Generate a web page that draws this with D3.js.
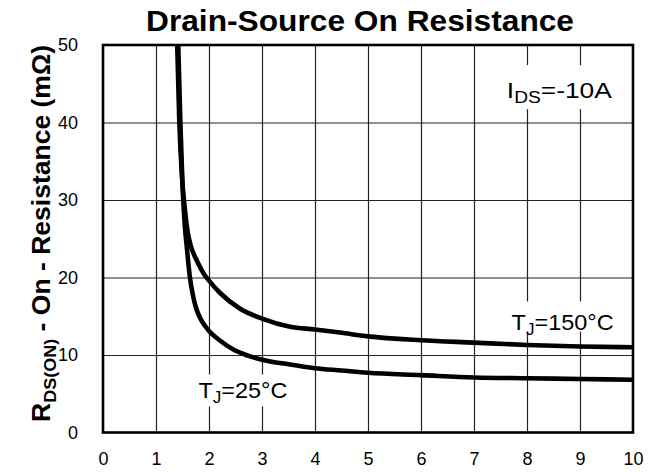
<!DOCTYPE html>
<html>
<head>
<meta charset="utf-8">
<script src="https://cdn.jsdelivr.net/npm/d3@7"></script>
<style>
  body { margin: 0; background: #fff; }
  text { font-family: "Liberation Sans", Arial, sans-serif; fill: #000; }
</style>
</head>
<body>
<svg id="chart" width="657" height="472"></svg>
<script>
// gate voltage (V) and on-resistance (mOhm)
const vgs25 = [1.42, 1.46, 1.5, 1.54, 1.58, 1.64, 1.7, 1.76, 1.83, 1.92, 2.0, 2.2, 2.46, 2.7, 3.0, 3.5, 4.0, 4.5, 5, 6, 7, 8, 9, 10];
const rds25 = [50, 40, 32, 27, 24, 20, 17.6, 16.0, 14.8, 13.8, 13.1, 11.9, 10.7, 10.0, 9.4, 8.8, 8.3, 8.0, 7.7, 7.4, 7.1, 7.0, 6.9, 6.8];
const vgs150 = [1.40, 1.44, 1.49, 1.55, 1.6, 1.66, 1.77, 1.92, 2.0, 2.21, 2.58, 3.0, 3.53, 4.0, 4.47, 5, 6, 7, 8, 9, 10];
const rds150 = [50, 40, 33, 28.5, 25.8, 24.0, 22.2, 20.3, 19.6, 18.0, 16.0, 14.7, 13.65, 13.3, 12.9, 12.4, 11.9, 11.6, 11.3, 11.1, 11.0];
const xTicks = [0, 1, 2, 3, 4, 5, 6, 7, 8, 9, 10];
const yTicks = [0, 10, 20, 30, 40, 50];

const svg = d3.select("#chart");
const margin = { top: 45, right: 24, bottom: 39.5, left: 103 };
const width = 657 - margin.left - margin.right,
  height = 472 - margin.top - margin.bottom;

const x = d3.scaleLinear().domain([0, 10]).range([0, width]);
const y = d3.scaleLinear().domain([0, 50]).range([height, 0]);

const g = svg.append("g").attr("transform", `translate(${margin.left},${margin.top})`);

g.append("clipPath").attr("id", "clip")
  .append("rect").attr("width", width).attr("height", height);

// grid
g.append("g")
  .attr("transform", `translate(0,${height})`)
  .call(d3.axisBottom(x).tickValues(xTicks.slice(1, -1)).tickSize(height).tickFormat(""))
  .call((a) => a.select(".domain").remove())
  .call((a) => a.selectAll("line").attr("y2", -height).attr("stroke", "#222").attr("stroke-width", 1.2));
g.append("g")
  .call(d3.axisLeft(y).tickValues(yTicks.slice(1, -1)).tickSize(-width).tickFormat(""))
  .call((a) => a.select(".domain").remove())
  .call((a) => a.selectAll("line").attr("stroke", "#222").attr("stroke-width", 1.2));

// tick labels
g.append("g")
  .attr("transform", `translate(0,${height})`)
  .call(d3.axisBottom(x).tickValues(xTicks).tickSize(0).tickPadding(20))
  .call((a) => a.select(".domain").remove())
  .call((a) => a.selectAll("text").attr("font-size", 18).attr("font-family", "Liberation Sans, Arial"));
g.append("g")
  .call(d3.axisLeft(y).tickValues(yTicks).tickSize(0).tickPadding(25))
  .call((a) => a.select(".domain").remove())
  .call((a) => a.selectAll("text").attr("font-size", 18).attr("font-family", "Liberation Sans, Arial"));

// white boxes behind the in-plot labels
const boxes = [
  { v: 7.45, r: 47.4, w: 120, h: 44 },
  { v: 7.6, r: 16.9, w: 112, h: 30 },
  { v: 1.7, r: 7.5, w: 96, h: 32 }
];
g.selectAll(".box").data(boxes).join("rect")
  .attr("class", "box")
  .attr("x", (d) => x(d.v)).attr("y", (d) => y(d.r))
  .attr("width", (d) => d.w).attr("height", (d) => d.h)
  .attr("fill", "#fff");

// curves
const line = d3.line().x((d) => x(d[0])).y((d) => y(d[1])).curve(d3.curveMonotoneX);
const series = [d3.zip(vgs25, rds25), d3.zip(vgs150, rds150)];
g.append("g").attr("clip-path", "url(#clip)")
  .selectAll("path").data(series).join("path")
  .attr("d", line)
  .attr("fill", "none")
  .attr("stroke", "#000")
  .attr("stroke-width", 4.6)
  .attr("stroke-linejoin", "round");

// labels
function label(v, r, main, sub, rest, len) {
  const t = g.append("text")
    .attr("x", x(v)).attr("y", y(r))
    .attr("font-size", 22)
    .attr("textLength", len)
    .attr("lengthAdjust", "spacingAndGlyphs");
  t.append("tspan").text(main);
  t.append("tspan").attr("font-size", 16).attr("dy", 5).text(sub);
  t.append("tspan").attr("dy", -5).text(rest);
}
label(7.62, 43.2, "I", "DS", "=-10A", 105);
label(7.71, 13.2, "T", "J", "=150°C", 102);
label(1.80, 4.4, "T", "J", "=25°C", 89);

// frame
g.append("rect")
  .attr("width", width).attr("height", height)
  .attr("fill", "none").attr("stroke", "#000").attr("stroke-width", 2.6);

// title
svg.append("text")
  .attr("x", 360).attr("y", 31)
  .attr("text-anchor", "middle")
  .attr("font-size", 29).attr("font-weight", "bold")
  .attr("textLength", 428).attr("lengthAdjust", "spacingAndGlyphs")
  .text("Drain-Source On Resistance");

// y title
const yt = svg.append("text")
  .attr("transform", "translate(50,422) rotate(-90)")
  .attr("font-size", 25).attr("font-weight", "bold")
  .attr("textLength", 377).attr("lengthAdjust", "spacingAndGlyphs");
yt.append("tspan").text("R");
yt.append("tspan").attr("font-size", 17).attr("dy", 6).text("DS(ON)");
yt.append("tspan").attr("dy", -6).text(" - On - Resistance (mΩ)");
</script>
</body>
</html>
